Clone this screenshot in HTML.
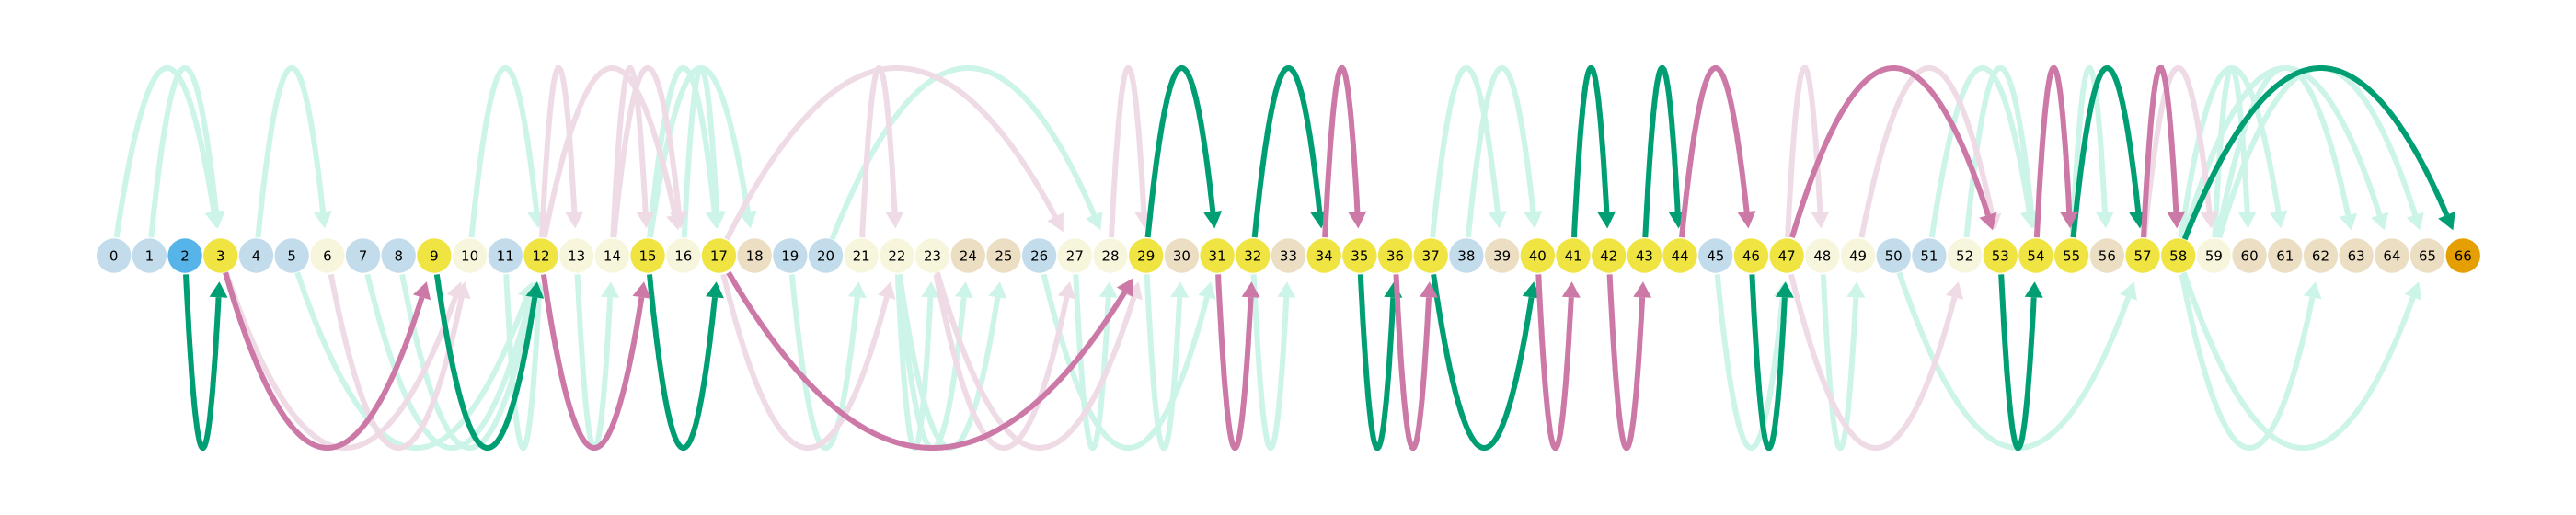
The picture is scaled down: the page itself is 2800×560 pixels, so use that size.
<!DOCTYPE html>
<html><head><meta charset="utf-8">
<style>
html,body{margin:0;padding:0;background:#fff;}
svg{display:block;}
text{font-family:"DejaVu Sans","Liberation Sans",sans-serif;}
</style></head>
<body>
<svg id="chart" width="2800" height="560" viewBox="0 0 2800 560" xmlns="http://www.w3.org/2000/svg">
<g id="edges-light"></g>
<g id="edges-dark"></g>
<g id="nodes"></g>
</svg>
<script>
// ---- data ----
const nodeIds = [];
for (let i = 0; i <= 66; i++) nodeIds.push(i);
const nodeKinds = ["lb","lb","blue","Y","lb","lb","ly","lb","lb","Y","ly","lb","Y","ly","ly","Y","ly","Y","bg","lb","lb","ly","ly","ly","bg","bg","lb","ly","ly","Y","bg","Y","Y","bg","Y","Y","Y","Y","lb","bg","Y","Y","Y","Y","Y","lb","Y","Y","ly","ly","lb","lb","ly","Y","Y","Y","bg","Y","Y","ly","bg","bg","bg","bg","bg","bg","or"];

const topSources = [0,1,4,10,15,16,15,20,37,38,51,52,55,59,58,58,59,59, 12,12,14,14,17,21,28,47,49,57, 29,32,41,43,55,58, 34,44,47,54,57];
const topTargets = [3,3,6,12,18,17,17,28,39,40,54,54,56,60,61,64,63,65, 13,16,15,16,27,22,29,48,53,59, 31,34,42,44,57,66, 35,46,53,55,58];
const topStyles  = ["lg","lg","lg","lg","lg","lg","lg","lg","lg","lg","lg","lg","lg","lg","lg","lg","lg","lg",
                    "lp","lp","lp","lp","lp","lp","lp","lp","lp","lp",
                    "dg","dg","dg","dg","dg","dg",
                    "pk","pk","pk","pk","pk"];

const botSources = [5,7,8,11,13,19,22,22,22,26,27,29,32,45,48,50,58,58, 3,6,17,23,23,47, 2,9,15,35,37,46,53, 3,12,17,31,36,40,42];
const botTargets = [12,12,12,12,14,21,23,24,25,31,28,30,33,47,49,57,62,65, 10,10,22,27,29,52, 3,12,17,36,40,47,54, 9,15,29,32,37,41,43];
const botStyles  = ["lg","lg","lg","lg","lg","lg","lg","lg","lg","lg","lg","lg","lg","lg","lg","lg","lg","lg",
                    "lp","lp","lp","lp","lp","lp",
                    "dg","dg","dg","dg","dg","dg","dg",
                    "pk","pk","pk","pk","pk","pk","pk"];

// ---- scales / styles ----
const X0 = 123.7, DX = 38.69, CY = 278, R = 18.7;
const xOf = i => X0 + DX * i;
const kindFill = {lb:"#c2dceb", blue:"#56b4e9", Y:"#f0e442", ly:"#f7f6dd", bg:"#ebdec2", or:"#e69f00"};
const styleColor = {lg:"#cdf4e8", lp:"#efdbe6", dg:"#009e73", pk:"#cc79a7"};
const NS = "http://www.w3.org/2000/svg";

function drawEdge(s, t, style, side) {
  const x1 = xOf(s), x2 = xOf(t), mx = (x1 + x2) / 2;
  const cy = side === "top" ? -130 : 696;
  const B = u => [(1-u)*(1-u)*x1 + 2*(1-u)*u*mx + u*u*x2,
                  (1-u)*(1-u)*CY + 2*(1-u)*u*cy + u*u*CY];
  const N = 400, pts = [];
  for (let k = 0; k <= N; k++) pts.push(B(k / N));
  const rs = 19, re = 28, headLen = 17, headW = 10;
  let a = 0; while (a < N && Math.hypot(pts[a][0]-x1, pts[a][1]-CY) < rs) a++;
  let b = N; while (b > 0 && Math.hypot(pts[b][0]-x2, pts[b][1]-CY) < re) b--;
  const tip = pts[b];
  let c = b; while (c > a && Math.hypot(pts[c][0]-tip[0], pts[c][1]-tip[1]) < headLen) c--;
  const base = pts[c];
  let d = "M" + pts[a][0].toFixed(1) + "," + pts[a][1].toFixed(1);
  for (let k = a + 1; k <= c; k++) d += "L" + pts[k][0].toFixed(1) + "," + pts[k][1].toFixed(1);
  const g = document.getElementById(style === "lg" || style === "lp" ? "edges-light" : "edges-dark");
  const grp = document.createElementNS(NS, "g");
  
  
  const p = document.createElementNS(NS, "path");
  p.setAttribute("d", d);
  p.setAttribute("fill", "none");
  p.setAttribute("stroke", styleColor[style]);
  p.setAttribute("stroke-width", "6");
  
  
  grp.appendChild(p);
  const ux = (tip[0]-base[0]), uy = (tip[1]-base[1]);
  const L = Math.hypot(ux, uy) || 1, nx = -uy / L, ny = ux / L;
  const poly = document.createElementNS(NS, "polygon");
  poly.setAttribute("points",
    tip[0].toFixed(1)+","+tip[1].toFixed(1)+" "+
    (base[0]+nx*headW).toFixed(1)+","+(base[1]+ny*headW).toFixed(1)+" "+
    (base[0]-nx*headW).toFixed(1)+","+(base[1]-ny*headW).toFixed(1));
  poly.setAttribute("fill", styleColor[style]);
  
  
  grp.appendChild(poly);
  g.appendChild(grp);
}

for (let k = 0; k < topSources.length; k++) drawEdge(topSources[k], topTargets[k], topStyles[k], "top");
for (let k = 0; k < botSources.length; k++) drawEdge(botSources[k], botTargets[k], botStyles[k], "bottom");

const ng = document.getElementById("nodes");
for (let i = 0; i < nodeIds.length; i++) {
  const g = document.createElementNS(NS, "g");
  
  
  const c = document.createElementNS(NS, "circle");
  c.setAttribute("cx", xOf(i)); c.setAttribute("cy", CY); c.setAttribute("r", R);
  c.setAttribute("fill", kindFill[nodeKinds[i]]);
  
  
  g.appendChild(c);
  const t = document.createElementNS(NS, "text");
  t.setAttribute("x", xOf(i)); t.setAttribute("y", CY + 5.5);
  t.setAttribute("text-anchor", "middle");
  t.setAttribute("font-size", "15");
  t.setAttribute("fill", "#000");
  
  
  t.textContent = String(nodeIds[i]);
  g.appendChild(t);
  ng.appendChild(g);
}
</script>
</body></html>
